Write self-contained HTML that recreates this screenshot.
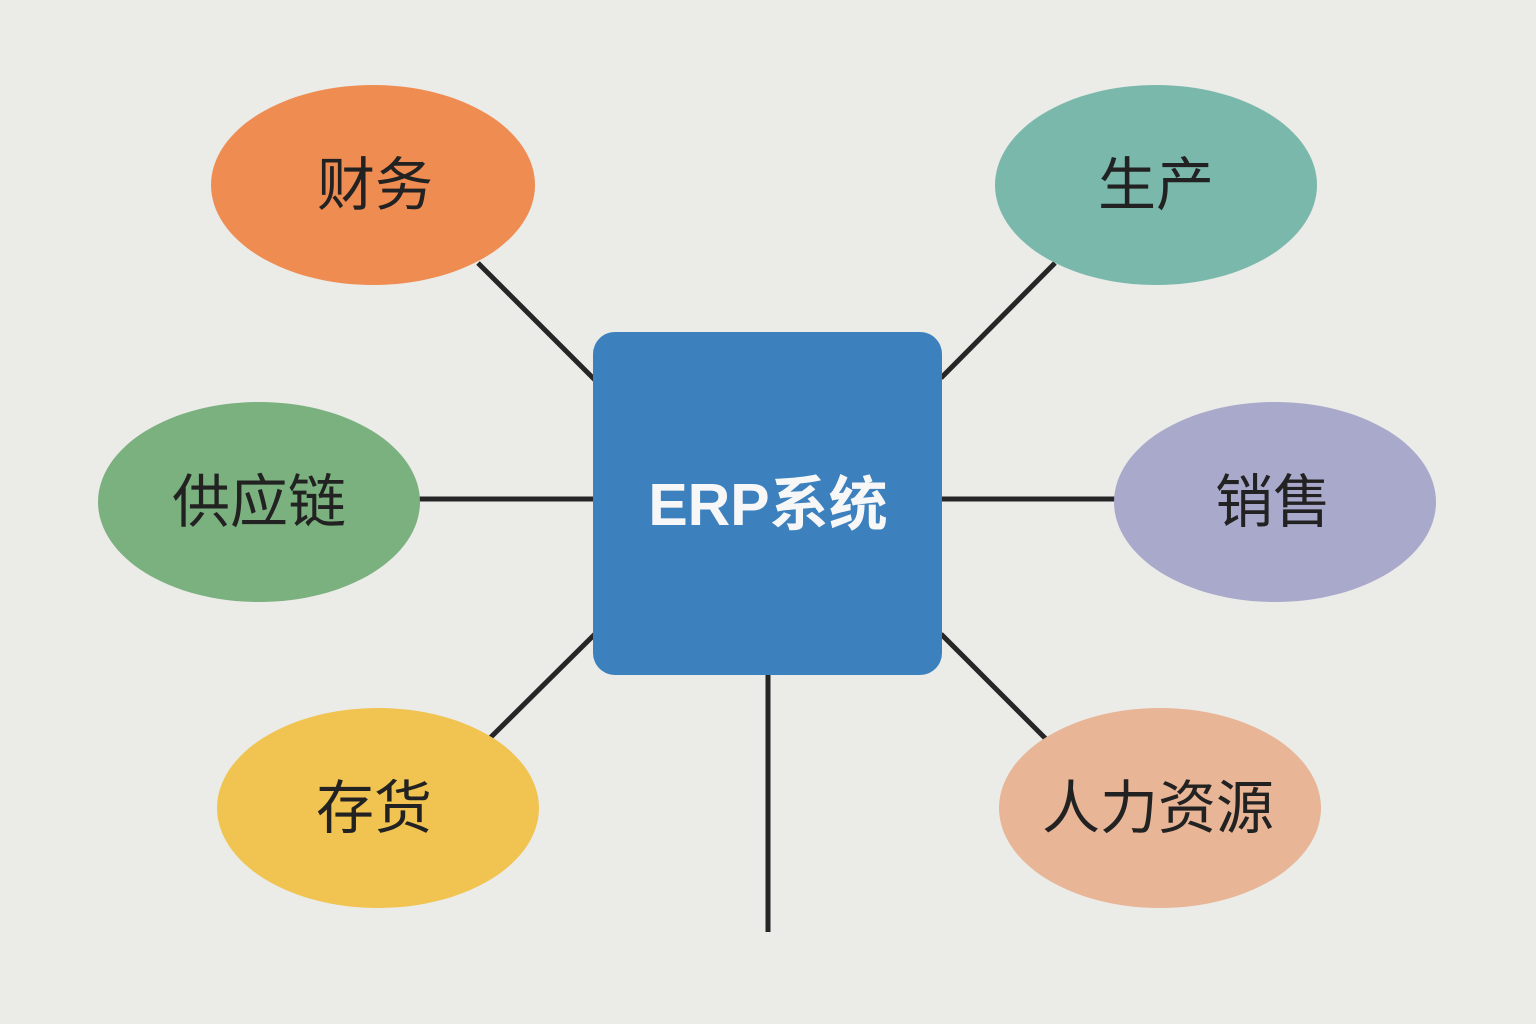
<!DOCTYPE html>
<html><head><meta charset="utf-8"><style>
html,body{margin:0;padding:0;background:#ebebe8;}
svg{display:block}
text{font-family:"Liberation Sans","Noto Sans CJK SC",sans-serif;}
</style></head><body>
<svg width="1536" height="1024" viewBox="0 0 1536 1024" xmlns="http://www.w3.org/2000/svg">
<rect width="1536" height="1024" fill="#ebebe8"/>
<g stroke="#262626" stroke-width="5" fill="none">
<line x1="478" y1="263" x2="595" y2="380"/>
<line x1="1055" y1="263" x2="941" y2="378"/>
<line x1="418" y1="499" x2="595" y2="499"/>
<line x1="941" y1="499" x2="1117" y2="499"/>
<line x1="595" y1="634" x2="490" y2="738"/>
<line x1="941" y1="634" x2="1046" y2="739"/>
<line x1="768" y1="672" x2="768" y2="932"/>
</g>
<ellipse cx="373" cy="185" rx="162" ry="100" fill="#ef8c52"/>
<ellipse cx="1156" cy="185" rx="161" ry="100" fill="#7ab8ab"/>
<ellipse cx="259" cy="502" rx="161" ry="100" fill="#7bb07f"/>
<ellipse cx="1275" cy="502" rx="161" ry="100" fill="#a9a9cb"/>
<ellipse cx="378" cy="808" rx="161" ry="100" fill="#f1c452"/>
<ellipse cx="1160" cy="808" rx="161" ry="100" fill="#e8b596"/>
<rect x="593" y="332" width="349" height="343" rx="22" fill="#3c81bd"/>
<g fill="#222" font-size="58" text-anchor="middle">
<text x="375" y="205">财务</text>
<text x="1156" y="205">生产</text>
<text x="259" y="522">供应链</text>
<text x="1273" y="522">销售</text>
<text x="374" y="828">存货</text>
<text x="1158" y="828">人力资源</text>
</g>
<text x="768" y="525" fill="#f7f7f7" font-size="59" font-weight="bold" text-anchor="middle">ERP系统</text>
</svg>
</body></html>
